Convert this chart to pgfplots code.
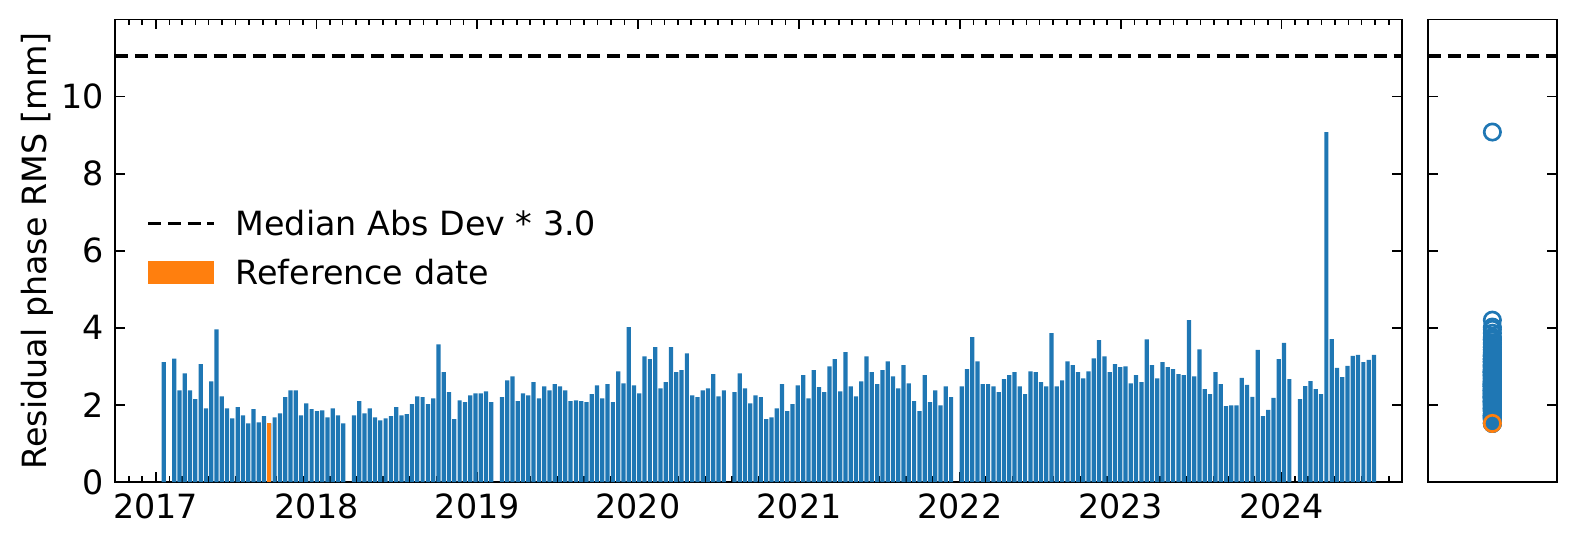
\documentclass[border=0pt]{standalone}
\usepackage{fontspec}
\setmainfont{DejaVu Sans}
\usepackage{pgfplots}
\usepackage{pgfplotstable}
\pgfplotsset{compat=1.18}
\definecolor{c0}{HTML}{1F77B4}
\definecolor{c1}{HTML}{FF7F0E}
\pgfplotstableread{
x y
18 3.11
42 3.20
54 2.38
66 2.82
78 2.38
90 2.15
102 3.06
114 1.91
126 2.61
138 3.96
150 2.22
162 1.91
174 1.65
186 1.94
198 1.73
210 1.52
222 1.89
234 1.55
246 1.71
258 1.52
270 1.68
282 1.78
294 2.20
306 2.38
318 2.38
330 1.73
342 2.04
354 1.89
366 1.84
378 1.86
390 1.68
402 1.91
414 1.73
426 1.52
450 1.73
462 2.10
474 1.78
486 1.91
498 1.68
510 1.60
522 1.65
534 1.71
546 1.94
558 1.73
570 1.76
582 2.02
594 2.22
606 2.20
618 2.02
630 2.17
642 3.57
654 2.85
666 2.33
678 1.63
690 2.12
702 2.07
714 2.25
726 2.30
738 2.30
750 2.35
762 2.07
786 2.20
798 2.64
810 2.74
822 2.10
834 2.30
846 2.25
858 2.59
870 2.17
882 2.48
894 2.38
906 2.54
918 2.48
930 2.38
942 2.10
954 2.12
966 2.10
978 2.07
990 2.28
1002 2.51
1014 2.17
1026 2.54
1038 2.07
1050 2.87
1062 2.56
1074 4.02
1086 2.51
1098 2.30
1110 3.26
1122 3.19
1134 3.50
1146 2.43
1158 2.59
1170 3.50
1182 2.85
1194 2.90
1206 3.34
1218 2.25
1230 2.20
1242 2.38
1254 2.43
1266 2.80
1278 2.22
1290 2.38
1314 2.33
1326 2.82
1338 2.43
1350 2.04
1362 2.25
1374 2.20
1386 1.63
1398 1.68
1410 1.91
1422 2.54
1434 1.84
1446 2.02
1458 2.51
1470 2.77
1482 2.17
1494 2.90
1506 2.46
1518 2.33
1530 3.00
1542 3.19
1554 2.35
1566 3.37
1578 2.48
1590 2.22
1602 2.61
1614 3.26
1626 2.85
1638 2.54
1650 2.90
1662 3.13
1674 2.74
1686 2.43
1698 3.03
1710 2.56
1722 2.10
1734 1.84
1746 2.77
1758 2.07
1770 2.38
1782 1.99
1794 2.48
1806 2.20
1830 2.48
1842 2.93
1854 3.76
1866 3.13
1878 2.54
1890 2.54
1902 2.48
1914 2.33
1926 2.67
1938 2.77
1950 2.85
1962 2.48
1974 2.28
1986 2.87
1998 2.85
2010 2.59
2022 2.48
2034 3.86
2046 2.48
2058 2.64
2070 3.13
2082 3.03
2094 2.85
2106 2.69
2118 2.87
2130 3.21
2142 3.68
2154 3.26
2166 2.85
2178 3.06
2190 2.98
2202 3.00
2214 2.56
2226 2.77
2238 2.59
2250 3.70
2262 3.03
2274 2.69
2286 3.11
2298 2.98
2310 2.93
2322 2.80
2334 2.77
2346 4.20
2358 2.74
2370 3.44
2382 2.41
2394 2.28
2406 2.85
2418 2.54
2430 1.97
2442 1.99
2454 1.99
2466 2.70
2478 2.52
2490 2.21
2502 3.43
2514 1.71
2526 1.87
2538 2.18
2550 3.19
2562 3.61
2574 2.67
2598 2.15
2610 2.49
2622 2.62
2634 2.41
2646 2.28
2658 9.08
2670 3.71
2682 2.96
2694 2.72
2706 3.01
2718 3.27
2730 3.30
2742 3.11
2754 3.17
2766 3.30
}\rmsdata
\pgfplotstableread{
x y
258 1.52
}\refdata
\pgfplotsset{
  mystyle/.style={
    scale only axis,
    anchor=south west,
    height=138.75pt,
    ymin=0, ymax=12,
    ytick={0,2,4,6,8,10},
    tick align=inside,
    major tick length=2.9pt,
    minor tick length=1.7pt,
    axis line style={line width=0.5pt},
    every tick/.style={black, line width=0.5pt},
    tick label style={font=\fontsize{10}{12}\selectfont},
    /pgf/number format/assume math mode=true,
  },
  mad/.style={black, line width=1pt, dash pattern=on 3.9pt off 2pt},
  madleg/.style={legend image code/.code={\draw[black, line width=1pt, dash pattern=on 3.9pt off 2pt] (0pt,0pt) -- (19.8pt,0pt); \path[draw=none, fill=none] (0pt,-5pt) rectangle (26.2pt,5pt);}},
  refleg/.style={legend image code/.code={\fill[c1, draw=none] (0pt,-3.45pt) rectangle (19.8pt,3.45pt); \path[draw=none, fill=none] (0pt,-5pt) rectangle (26.2pt,5pt);}},
}
\begin{document}
\begin{tikzpicture}
\useasboundingbox (0pt,0pt) rectangle (473.4pt,163.5pt);
\begin{axis}[
  mystyle,
  at={(34.56pt,18.9pt)},
  width=386.07pt,
  xmin=-92, xmax=2830,
  xtick={0,365,730,1095,1461,1826,2191,2556},
  xticklabels={2017,2018,2019,2020,2021,2022,2023,2024},
  minor xtick={-92,-61,-31,31,59,90,120,151,181,212,243,273,304,334,396,424,455,485,516,546,577,608,638,669,699,761,789,820,850,881,911,942,973,1003,1034,1064,1126,1155,1186,1216,1247,1277,1308,1339,1369,1400,1430,1492,1520,1551,1581,1612,1642,1673,1704,1734,1765,1795,1857,1885,1916,1946,1977,2007,2038,2069,2099,2130,2160,2222,2250,2281,2311,2342,2372,2403,2434,2464,2495,2525,2587,2616,2647,2677,2708,2738,2769,2800},
  scaled x ticks=false,
  ylabel={Residual phase RMS [mm]},
  ylabel style={at={(axis description cs:-0.0604,0.5)}, anchor=center, font=\fontsize{10}{12}\selectfont},
  legend cell align=left,
  legend style={draw=none, fill=none, at={(0.0239,0.506)}, anchor=west, inner sep=0pt,
    row sep=4.85pt, font=\fontsize{10}{12}\selectfont,
    nodes={inner sep=0pt, text height=7.29pt, text depth=0pt}},
]
\addplot[ybar, bar width=9.6, bar shift=0pt, fill=c0, draw=none, forget plot] table[x=x,y=y]{\rmsdata};
\addplot[mad, madleg] coordinates {(-92,11.05) (2830,11.05)};
\addlegendentry{Median Abs Dev * 3.0}
\addplot[ybar, bar width=9.6, bar shift=0pt, fill=c1, draw=none, refleg] table[x=x,y=y]{\refdata};
\addlegendentry{Reference date}
\end{axis}
\begin{axis}[
  mystyle,
  at={(428.4pt,18.9pt)},
  width=38.61pt,
  xmin=-1, xmax=1,
  xtick=\empty,
  yticklabels={},
  ytick pos=both,
]
\addplot[mad] coordinates {(-1,11.05) (1,11.05)};
\addplot[only marks, mark=o, mark size=2.45pt, c0, line width=0.8pt] table[x expr=0, y=y]{\rmsdata};
\addplot[only marks, mark=o, mark size=2.45pt, c1, line width=0.8pt] table[x expr=0, y=y]{\refdata};
\end{axis}
\end{tikzpicture}
\end{document}
